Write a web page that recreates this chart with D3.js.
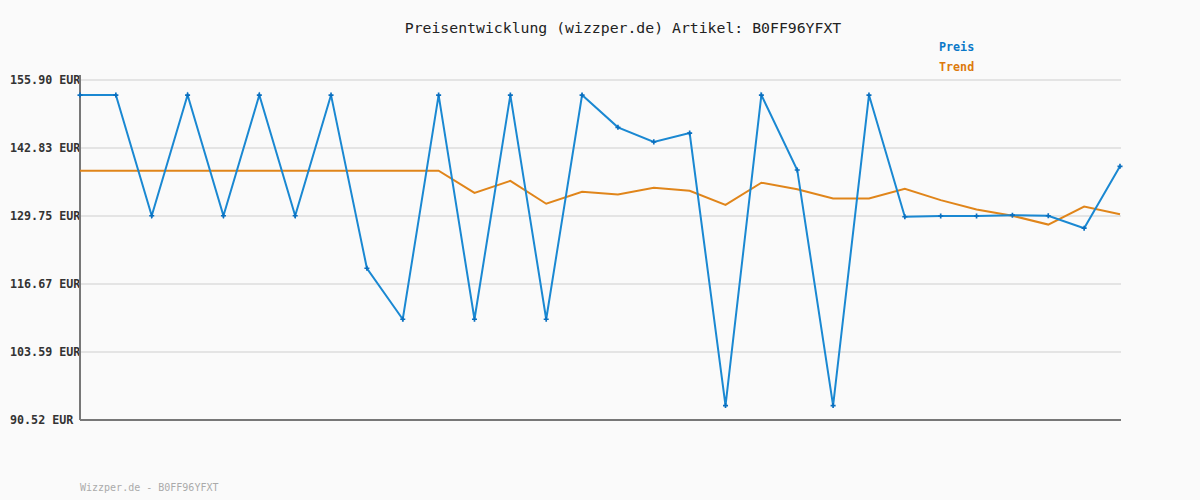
<!DOCTYPE html>
<html>
<head>
<meta charset="utf-8">
<script src="https://cdn.jsdelivr.net/npm/d3@7"></script>
<style>
  body { margin: 0; background: #fafafa; }
  svg { display: block; }
</style>
</head>
<body>
<div id="chart"></div>
<script>
// Chart data
var articleId = "B0FF96YFXT";
var yTicks = [90.52, 103.59, 116.67, 129.75, 142.83, 155.90];
var priceValues = [153.0, 153.0, 129.8, 153.0, 129.8, 153.0, 129.8, 153.0, 119.7, 109.9,
                   153.0, 109.9, 153.0, 109.9, 153.0, 146.8, 144.0, 145.7, 93.3, 153.0,
                   138.6, 93.3, 153.0, 129.6, 129.75, 129.75, 129.9, 129.8, 127.4, 139.3];
var trendValues = [138.46, 138.46, 138.46, 138.46, 138.46, 138.46, 138.46, 138.46, 138.46, 138.46,
                   138.46, 134.2, 136.5, 132.1, 134.4, 133.9, 135.2, 134.6, 131.9, 136.15,
                   134.9, 133.1, 133.1, 135.0, 132.8, 131.0, 129.8, 128.1, 131.55, 130.1];

var width = 1200, height = 500;
var margin = { left: 80, right: 80, top: 80, bottom: 80 };

var svg = d3.select("#chart").append("svg")
  .attr("width", width)
  .attr("height", height);

svg.append("rect").attr("width", width).attr("height", height).attr("fill", "#fafafa");

var x = d3.scaleLinear()
  .domain([0, priceValues.length - 1])
  .range([margin.left, width - margin.right]);

var y = d3.scaleLinear()
  .domain([yTicks[0], yTicks[yTicks.length - 1]])
  .range([height - margin.bottom, margin.top]);

var mono = "'DejaVu Sans Mono', 'Liberation Mono', monospace";

// Title
svg.append("text")
  .attr("x", 623).attr("y", 33)
  .attr("text-anchor", "middle")
  .attr("font-family", mono)
  .attr("font-size", 14.8)
  .attr("fill", "#222")
  .text("Preisentwicklung (wizzper.de) Artikel: " + articleId);

// Legend
svg.append("text")
  .attr("x", 939).attr("y", 51)
  .attr("font-family", mono).attr("font-size", 11.7).attr("font-weight", "bold")
  .attr("fill", "#0a78c8")
  .text("Preis");
svg.append("text")
  .attr("x", 939).attr("y", 71)
  .attr("font-family", mono).attr("font-size", 11.7).attr("font-weight", "bold")
  .attr("fill", "#dd7a0c")
  .text("Trend");

// Gridlines
svg.append("g")
  .selectAll("line")
  .data(yTicks.slice(1))
  .join("line")
  .attr("x1", margin.left).attr("x2", width - margin.right + 1)
  .attr("y1", function(d) { return y(d); })
  .attr("y2", function(d) { return y(d); })
  .attr("stroke", "#e4e4e4")
  .attr("stroke-width", 2);

// Y labels
svg.append("g")
  .selectAll("text")
  .data(yTicks)
  .join("text")
  .attr("x", 10)
  .attr("y", function(d) { return y(d) + 4; })
  .attr("font-family", mono)
  .attr("font-size", 11.7)
  .attr("font-weight", "bold")
  .attr("fill", "#333")
  .text(function(d) { return d.toFixed(2) + " EUR"; });

// Axes
svg.append("line")
  .attr("x1", margin.left).attr("x2", margin.left)
  .attr("y1", margin.top - 5).attr("y2", height - margin.bottom)
  .attr("stroke", "#777").attr("stroke-width", 2);
svg.append("line")
  .attr("x1", margin.left).attr("x2", width - margin.right + 1)
  .attr("y1", height - margin.bottom).attr("y2", height - margin.bottom)
  .attr("stroke", "#777").attr("stroke-width", 2);

var line = d3.line()
  .x(function(d, i) { return x(i); })
  .y(function(d) { return y(d); });

// Trend line
svg.append("path")
  .datum(trendValues)
  .attr("d", line)
  .attr("fill", "none")
  .attr("stroke", "#e0851a")
  .attr("stroke-width", 2);

// Price line
svg.append("path")
  .datum(priceValues)
  .attr("d", line)
  .attr("fill", "none")
  .attr("stroke", "#1a88d2")
  .attr("stroke-width", 2);

// Price markers
svg.append("g")
  .selectAll("path")
  .data(priceValues)
  .join("path")
  .attr("transform", function(d, i) { return "translate(" + x(i) + "," + y(d) + ")"; })
  .attr("d", d3.symbol(d3.symbolCross, 14))
  .attr("fill", "#0a6fbf");

// Footer
svg.append("text")
  .attr("x", 80).attr("y", 491)
  .attr("font-family", mono)
  .attr("font-size", 10)
  .attr("fill", "#aaa")
  .text("Wizzper.de - " + articleId);
</script>
</body>
</html>
